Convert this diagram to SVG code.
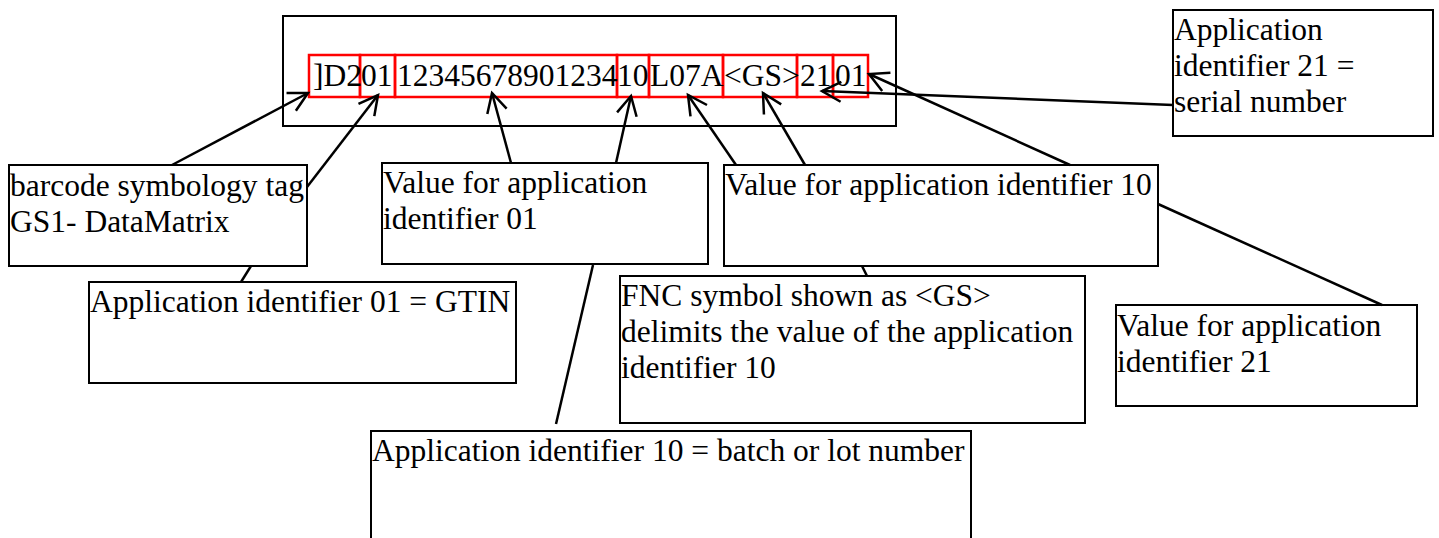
<svg xmlns="http://www.w3.org/2000/svg" width="1439" height="538" viewBox="0 0 1439 538">
<style>
.box{fill:#fff;stroke:#000;stroke-width:2}
.red{fill:none;stroke:#f00;stroke-width:2.5}
.t{font-family:"Liberation Serif","Times New Roman",serif;font-size:31.5px;fill:#000}
.c{fill:none;stroke:#000;stroke-width:2.5}
</style>
<defs>
<marker id="arr" markerUnits="userSpaceOnUse" markerWidth="30" markerHeight="30" viewBox="-25 -15 30 30" refX="0" refY="0" orient="auto">
<path d="M-19,-10 L0,0 L-19,10" fill="none" stroke="#000" stroke-width="2.5"/>
</marker>
</defs>
<rect width="1439" height="538" fill="#fff"/>
<g id="code">
<rect class="box" x="283" y="16" width="613" height="110"/>
<rect class="red" x="309" y="55" width="51" height="42"/>
<rect class="red" x="360" y="55" width="35" height="42"/>
<rect class="red" x="395" y="55" width="222" height="42"/>
<rect class="red" x="617" y="55" width="32" height="42"/>
<rect class="red" x="649" y="55" width="74" height="42"/>
<rect class="red" x="723" y="55" width="74" height="42"/>
<rect class="red" x="797" y="55" width="36" height="42"/>
<rect class="red" x="833" y="55" width="35" height="42"/>
<text class="t" x="313" y="86">]D2</text>
<text class="t" x="361" y="86">01</text>
<text class="t" x="397" y="86">12345678901234</text>
<text class="t" x="617" y="86">10</text>
<text class="t" x="650" y="86">L07A</text>
<text class="t" x="724" y="86">&lt;GS&gt;</text>
<text class="t" x="800" y="86">21</text>
<text class="t" x="835" y="86">01</text>
</g>
<g id="n-tag">
<rect class="box" x="9" y="165" width="298" height="101"/>
<text class="t" x="10" y="196">barcode symbology tag</text>
<text class="t" x="10" y="232">GS1- DataMatrix</text>
</g>
<g id="n-val01">
<rect class="box" x="382" y="163" width="326" height="101"/>
<text class="t" x="383" y="193">Value for application</text>
<text class="t" x="383" y="229">identifier 01</text>
</g>
<g id="n-val10">
<rect class="box" x="724" y="165" width="434" height="101"/>
<text class="t" x="725" y="195">Value for application identifier 10</text>
</g>
<g id="n-ai21">
<rect class="box" x="1173" y="10" width="260" height="126"/>
<text class="t" x="1174" y="40">Application</text>
<text class="t" x="1174" y="76">identifier 21 =</text>
<text class="t" x="1174" y="112">serial number</text>
</g>
<g id="n-ai01">
<rect class="box" x="89" y="282" width="427" height="101"/>
<text class="t" x="90" y="312">Application identifier 01 = GTIN</text>
</g>
<g id="n-fnc">
<rect class="box" x="620" y="276" width="465" height="147"/>
<text class="t" x="621" y="306">FNC symbol shown as &lt;GS&gt;</text>
<text class="t" x="621" y="342">delimits the value of the application</text>
<text class="t" x="621" y="378">identifier 10</text>
</g>
<g id="n-val21">
<rect class="box" x="1116" y="305" width="301" height="101"/>
<text class="t" x="1117" y="336">Value for application</text>
<text class="t" x="1117" y="372">identifier 21</text>
</g>
<g id="n-ai10">
<rect class="box" x="371" y="431" width="600" height="120"/>
<text class="t" x="372" y="461">Application identifier 10 = batch or lot number</text>
</g>
<g id="connectors">
<line class="c" x1="172" y1="165" x2="308" y2="93" marker-end="url(#arr)"/>
<line class="c" x1="307" y1="187" x2="378" y2="95" marker-end="url(#arr)"/>
<line class="c" x1="511" y1="163" x2="492" y2="93" marker-end="url(#arr)"/>
<line class="c" x1="616" y1="163" x2="631" y2="96" marker-end="url(#arr)"/>
<line class="c" x1="736" y1="165" x2="688" y2="95" marker-end="url(#arr)"/>
<line class="c" x1="805" y1="165" x2="763" y2="93" marker-end="url(#arr)"/>
<line class="c" x1="1070" y1="165" x2="869" y2="74" marker-end="url(#arr)"/>
<line class="c" x1="1173" y1="105" x2="822" y2="91" marker-end="url(#arr)"/>
<line class="c" x1="251" y1="266" x2="241" y2="282"/>
<line class="c" x1="593" y1="265" x2="556" y2="424"/>
<line class="c" x1="862" y1="266" x2="867" y2="276"/>
<line class="c" x1="1158" y1="204" x2="1382" y2="305"/>
</g>
</svg>
